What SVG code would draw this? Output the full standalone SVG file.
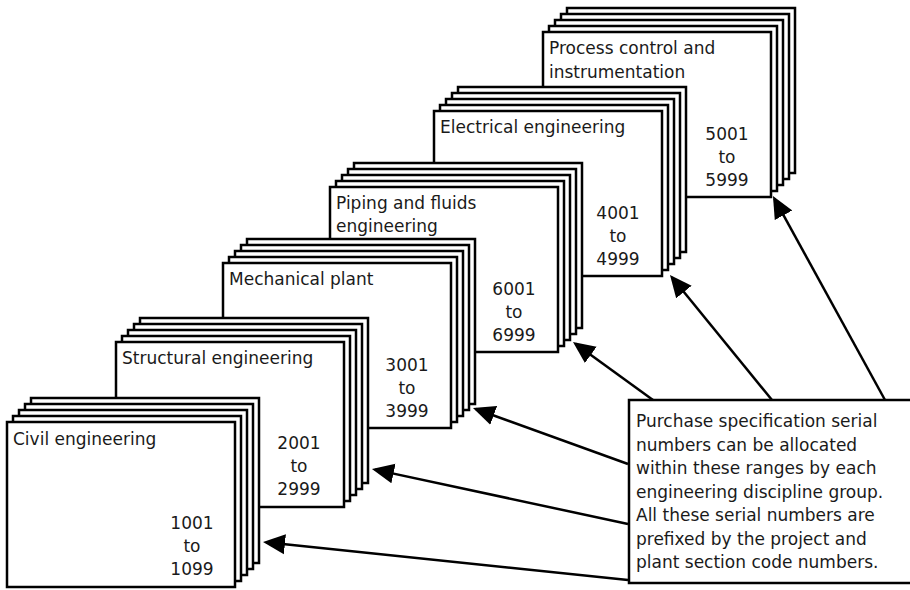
<svg xmlns="http://www.w3.org/2000/svg" xmlns:xlink="http://www.w3.org/1999/xlink" width="910" height="590" viewBox="0 0 910 590">
<style>
  .sheet { fill: #ffffff; stroke: #000000; stroke-width: 2.5; }
  .lbl { font-family: "DejaVu Sans", Verdana, sans-serif; font-size: 17px; fill: #1a1a1a; }
  .num { font-family: "DejaVu Sans", Verdana, sans-serif; font-size: 17px; fill: #1a1a1a; text-anchor: middle; }
  .conn { stroke: #000000; stroke-width: 2.5; fill: none; marker-end: url(#ah); }
</style>
<defs>
  <rect id="pg" class="sheet" x="0" y="0" width="228" height="165"/>
  <g id="stack">
    <use xlink:href="#pg" href="#pg" x="24" y="-24"/>
    <use xlink:href="#pg" href="#pg" x="18" y="-18"/>
    <use xlink:href="#pg" href="#pg" x="12" y="-12"/>
    <use xlink:href="#pg" href="#pg" x="6" y="-6"/>
    <use xlink:href="#pg" href="#pg" x="0" y="0"/>
  </g>
  <marker id="ah" markerUnits="userSpaceOnUse" markerWidth="24" markerHeight="22" viewBox="0 0 24 22" refX="19" refY="11" orient="auto">
    <path d="M0,1 L22,11 L0,21 z" fill="#000000"/>
  </marker>
</defs>
<rect x="0" y="0" width="910" height="590" fill="#ffffff"/>

<g id="process">
  <use xlink:href="#stack" href="#stack" x="543" y="32"/>
  <text class="lbl" x="549" y="54">Process control and</text>
  <text class="lbl" x="549" y="77.5">instrumentation</text>
  <text class="num" x="727" y="139.5">5001</text>
  <text class="num" x="727" y="162.5">to</text>
  <text class="num" x="727" y="185.5">5999</text>
</g>

<g id="electrical">
  <use xlink:href="#stack" href="#stack" x="434" y="111"/>
  <text class="lbl" x="440" y="133">Electrical engineering</text>
  <text class="num" x="618" y="218.5">4001</text>
  <text class="num" x="618" y="241.5">to</text>
  <text class="num" x="618" y="264.5">4999</text>
</g>

<g id="piping">
  <use xlink:href="#stack" href="#stack" x="330" y="187"/>
  <text class="lbl" x="336" y="208.5">Piping and fluids</text>
  <text class="lbl" x="336" y="232">engineering</text>
  <text class="num" x="514" y="294.5">6001</text>
  <text class="num" x="514" y="317.5">to</text>
  <text class="num" x="514" y="340.5">6999</text>
</g>

<g id="mechanical">
  <use xlink:href="#stack" href="#stack" x="223" y="263"/>
  <text class="lbl" x="229" y="285">Mechanical plant</text>
  <text class="num" x="407" y="370.5">3001</text>
  <text class="num" x="407" y="393.5">to</text>
  <text class="num" x="407" y="416.5">3999</text>
</g>

<g id="structural">
  <use xlink:href="#stack" href="#stack" x="116" y="342"/>
  <text class="lbl" x="122" y="364">Structural engineering</text>
  <text class="num" x="299" y="448.5">2001</text>
  <text class="num" x="299" y="471.5">to</text>
  <text class="num" x="299" y="494.5">2999</text>
</g>

<g id="civil">
  <use xlink:href="#stack" href="#stack" x="7" y="422"/>
  <text class="lbl" x="13" y="444.5">Civil engineering</text>
  <text class="num" x="192" y="529">1001</text>
  <text class="num" x="192" y="552">to</text>
  <text class="num" x="192" y="575">1099</text>
</g>

<g id="connectors">
  <line class="conn" x1="628" y1="580" x2="266" y2="542.3"/>
  <line class="conn" x1="628" y1="524" x2="374.9" y2="469.6"/>
  <line class="conn" x1="628" y1="464" x2="475.8" y2="409"/>
  <line class="conn" x1="653" y1="400" x2="575.4" y2="343.8"/>
  <line class="conn" x1="772" y1="400" x2="671.9" y2="277.3"/>
  <line class="conn" x1="885" y1="400" x2="774.4" y2="198.6"/>
</g>

<g id="note">
  <rect class="sheet" x="629" y="400" width="284" height="183"/>
  <text class="lbl" x="636" y="427">Purchase specification serial</text>
  <text class="lbl" x="636" y="450.5">numbers can be allocated</text>
  <text class="lbl" x="636" y="474">within these ranges by each</text>
  <text class="lbl" x="636" y="497.5">engineering discipline group.</text>
  <text class="lbl" x="636" y="521">All these serial numbers are</text>
  <text class="lbl" x="636" y="544.5">prefixed by the project and</text>
  <text class="lbl" x="636" y="568">plant section code numbers.</text>
</g>
</svg>
